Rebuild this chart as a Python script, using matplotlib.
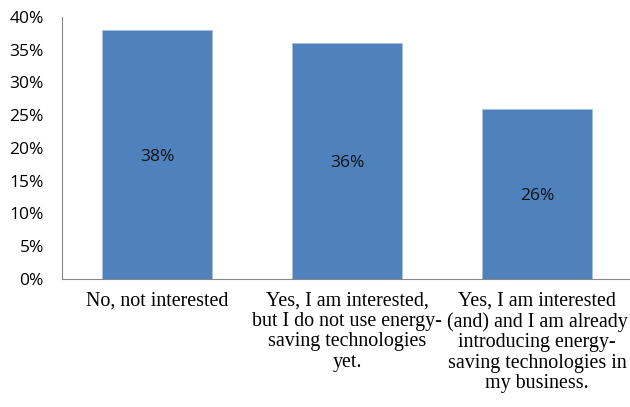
import matplotlib
matplotlib.use("Agg")
import matplotlib.pyplot as plt
from matplotlib.ticker import FuncFormatter

categories = ["No, not interested",
              "Yes, I am interested,\nbut I do not use energy-\nsaving technologies\nyet.",
              "Yes, I am interested\n(and) and I am already\nintroducing energy-\nsaving technologies in\nmy business."]
values = [38, 36, 26]
yticks = [0, 5, 10, 15, 20, 25, 30, 35, 40]

fig = plt.figure(figsize=(6.3, 4.07), dpi=100)
ax = fig.add_axes([62/630, 1-279/407, 570/630, (279-17)/407])
x = list(range(len(values)))
bars = ax.bar(x, values, width=0.575, color="#4f81bd", edgecolor="#a9c0df", linewidth=0.6)
for xi, v in zip(x, values):
    ax.text(xi, v/2, f"{v}%", ha="center", va="center_baseline", fontsize=12.5,
            family=["Open Sans", "DejaVu Sans"], color="#111111")
ax.set_xlim(-0.5, len(values)-0.5)
ax.set_ylim(0, 40)
ax.set_yticks(yticks)
ax.yaxis.set_major_formatter(FuncFormatter(lambda v, p: f"{int(v)}%"))
ax.set_xticks(x)
ax.set_xticklabels(categories, family="Liberation Serif", fontsize=14.4, linespacing=1.1, va="top")
for lbl in ax.get_yticklabels():
    lbl.set_family(["Open Sans", "DejaVu Sans"])
    lbl.set_fontsize(12.5)
ax.tick_params(axis="both", length=0)
ax.tick_params(axis="x", pad=9)
ax.tick_params(axis="y", pad=13)
for s in ["top", "right"]:
    ax.spines[s].set_visible(False)
for s in ["left", "bottom"]:
    ax.spines[s].set_color("#888888")
    ax.spines[s].set_linewidth(0.8)
fig.savefig("out.png", dpi=100)
